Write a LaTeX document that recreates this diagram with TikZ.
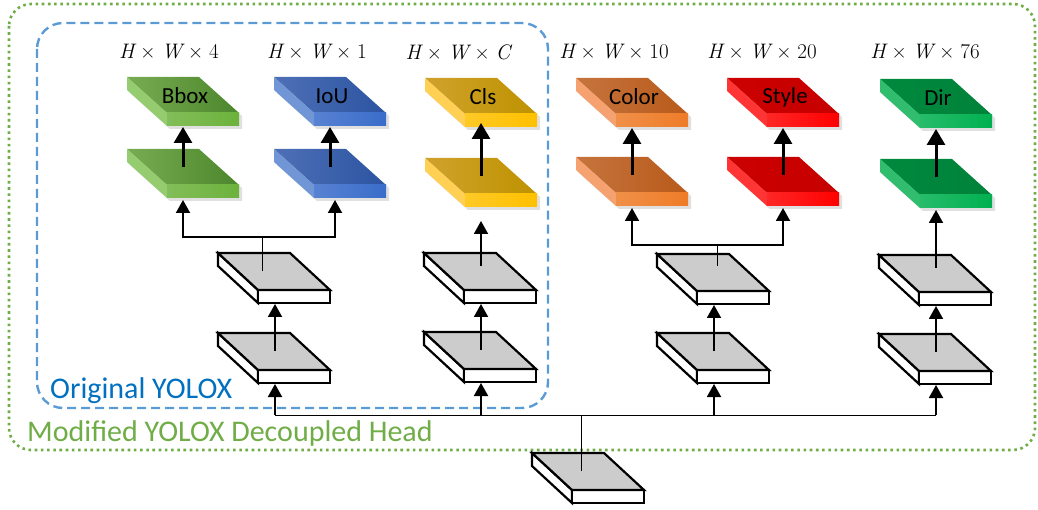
\documentclass[tikz,border=0pt]{standalone}
\usepackage{fontspec}
\newfontfamily\calibri{Carlito}
\newfontfamily\lmr{Latin Modern Roman}
\usetikzlibrary{arrows.meta}
% colours: L = top-face left, R = top-face right, S = side, F = front
\definecolor{bbL}{RGB}{120,172,82}\definecolor{bbR}{RGB}{76,134,44}\definecolor{bbS}{RGB}{150,204,112}\definecolor{bbF}{RGB}{108,178,60}
\definecolor{ioL}{RGB}{78,112,182}\definecolor{ioR}{RGB}{44,84,162}\definecolor{ioS}{RGB}{112,150,214}\definecolor{ioF}{RGB}{58,108,202}
\definecolor{clL}{RGB}{208,162,44}\definecolor{clR}{RGB}{190,146,0}\definecolor{clS}{RGB}{255,208,84}\definecolor{clF}{RGB}{255,192,0}
\definecolor{coL}{RGB}{198,116,62}\definecolor{coR}{RGB}{184,90,26}\definecolor{coS}{RGB}{246,162,112}\definecolor{coF}{RGB}{238,124,40}
\definecolor{stL}{RGB}{204,0,0}\definecolor{stR}{RGB}{198,0,0}\definecolor{stS}{RGB}{255,52,52}\definecolor{stF}{RGB}{255,0,0}
\definecolor{diL}{RGB}{0,138,62}\definecolor{diR}{RGB}{0,130,58}\definecolor{diS}{RGB}{48,190,110}\definecolor{diF}{RGB}{0,176,80}
\definecolor{yoloblue}{RGB}{91,155,213}
\definecolor{yolotext}{RGB}{0,112,192}
\definecolor{modgreen}{RGB}{112,173,71}
\newcommand\dimtxt[1]{{\itshape H}\hspace{6pt}×\hspace{6pt}{\itshape W}\hspace{6pt}×\hspace{6pt}#1}
\tikzset{
  lbl/.style={font=\calibri\fontsize{23}{25}\selectfont, text=black, inner sep=0pt},
  dimlbl/.style={font=\lmr\fontsize{21}{23}\selectfont, inner sep=0pt},
  grayline/.style={line width=2.2pt, line join=miter},
  carr/.style={line width=3pt, -{Triangle[width=18pt,length=16pt]}},
  garr/.style={line width=1.9pt, -{Triangle[width=14pt,length=13pt]}},
  thinl/.style={line width=0.9pt},
}
% gray box: name, x, y (top-left corner of top face)
\newcommand\graybox[3]{%
  \begin{scope}[shift={(#2,#3)}]
    \filldraw[grayline, fill=white] (0,0) -- (40,37) -- (40,50) -- (0,13) -- cycle;
    \filldraw[grayline, fill=white] (40,37) rectangle (112,50);
    \filldraw[grayline, fill=black!20] (0,0) -- (72,0) -- (112,37) -- (40,37) -- cycle;
    \coordinate (#1c) at (57,18);
    \coordinate (#1t) at (57,13);
    \coordinate (#1b) at (57,51);
  \end{scope}}
% coloured box: name, x, y, colour prefix, label
\newcommand\colbox[5]{%
  \begin{scope}[shift={(#2,#3)}]
    \fill[black, opacity=0.12] (3,3) -- (75,3) -- (115,39) -- (115,52) -- (43,52) -- (3,16) -- cycle;
    \shade[left color=#4L, right color=#4R] (0,0) -- (72,0) -- (112,36) -- (40,36) -- cycle;
    \fill[#4S] (0,0) -- (40,36) -- (40,49) -- (0,13) -- cycle;
    \shade[left color=#4F!85!white, right color=#4F] (40,36) rectangle (112,49);
    \node[lbl] (#1) at (58,19) {#5};
    \coordinate (#1c) at (56,18);
    \coordinate (#1b) at (56,50);
  \end{scope}}
\begin{document}
\begin{tikzpicture}[x=1pt, y=-1pt]
\useasboundingbox (0,0) rectangle (1038,510);
% frames
\draw[modgreen, line width=2.6pt, dash pattern=on 2.6pt off 3.6pt, rounded corners=22pt] (9,4) rectangle (1035,450);
\draw[yoloblue, line width=2.4pt, dash pattern=on 9pt off 5pt, rounded corners=26pt] (37,23) rectangle (548,408);
\node[anchor=base west, font=\calibri\fontsize{30}{32}\selectfont, text=yolotext, inner sep=0pt] (orig) at (50,398) {Original YOLOX};
\node[anchor=base west, font=\calibri\fontsize{30}{32}\selectfont, text=modgreen, inner sep=0pt] (modi) at (27,441) {Modified YOLOX Decoupled Head};
% dimension labels
\node[dimlbl] (d1) at (169,52) {\dimtxt{4}};
\node[dimlbl] (d2) at (317,52) {\dimtxt{1}};
\node[dimlbl] (d3) at (458,52) {\dimtxt{\itshape C}};
\node[dimlbl] (d4) at (614,52) {\dimtxt{10}};
\node[dimlbl] (d5) at (762,52) {\dimtxt{20}};
\node[dimlbl] (d6) at (925,52) {\dimtxt{76}};
% coloured boxes
\colbox{bbA}{127}{149}{bb}{}
\colbox{bbB}{127}{77}{bb}{Bbox}
\colbox{ioA}{274}{149}{io}{}
\colbox{ioB}{274}{77}{io}{IoU}
\colbox{clA}{425}{158}{cl}{}
\colbox{clB}{425}{78}{cl}{Cls}
\colbox{coA}{576}{157}{co}{}
\colbox{coB}{576}{78}{co}{Color}
\colbox{stA}{727}{157}{st}{}
\colbox{stB}{727}{78}{st}{Style}
\colbox{diA}{880}{159}{di}{}
\colbox{diB}{880}{79}{di}{Dir}
% gray boxes
\graybox{gA}{218}{333}
\graybox{gAu}{218}{253}
\graybox{gB}{424}{332}
\graybox{gBu}{424}{253}
\graybox{gC}{657}{333}
\graybox{gCu}{657}{254}
\graybox{gD}{879}{334}
\graybox{gDu}{879}{255}
\graybox{gO}{532}{453}
% junction coordinates
\coordinate (bus) at (581,415);
\coordinate (jA) at (262,237);
\coordinate (jC) at (717,245);
% arrows between coloured boxes
\draw[carr] (bbAc) -- (bbBb);
\draw[carr] (ioAc) -- (ioBb);
\draw[carr] (clAc) -- ([yshift=5pt]clBb);
\draw[carr] (coAc) -- (coBb);
\draw[carr] (stAc) -- (stBb);
\draw[carr] (diAc) -- (diBb);
% arrows between gray boxes
\draw[garr] (gAc) -- (gAub);
\draw[garr] (gBc) -- (gBub);
\draw[garr] (gCc) -- (gCub);
\draw[garr] (gDc) -- (gDub);
% bottom box to bus
\draw[thinl] (bus |- gOc) -- (bus);
\draw[thinl] (gAb |- bus) -- (gDb |- bus);
\draw[garr] (gAb |- bus) -- (gAb);
\draw[garr] (gBb |- bus) -- (gBb);
\draw[garr] (gCb |- bus) -- (gCb);
\draw[garr] (gDb |- bus) -- (gDb);
% upper gray boxes to coloured boxes
\draw[thinl] (jA |- gAuc) -- (jA);
\draw[garr, shorten >=1pt] (jA) -| (bbAb);
\draw[garr, shorten >=1pt] (jA) -| ([xshift=5pt]ioAb);
\draw[garr, shorten >=13pt] (clAb |- gBut) -- (clAb);
\draw[thinl] ([yshift=6pt]jC |- gCuc) -- (jC);
\draw[garr, shorten >=1pt] (jC) -| (coAb);
\draw[garr, shorten >=1pt] (jC) -| (stAb);
\draw[garr, shorten >=1pt] (diAb |- gDut) -- (diAb);
\end{tikzpicture}
\end{document}
